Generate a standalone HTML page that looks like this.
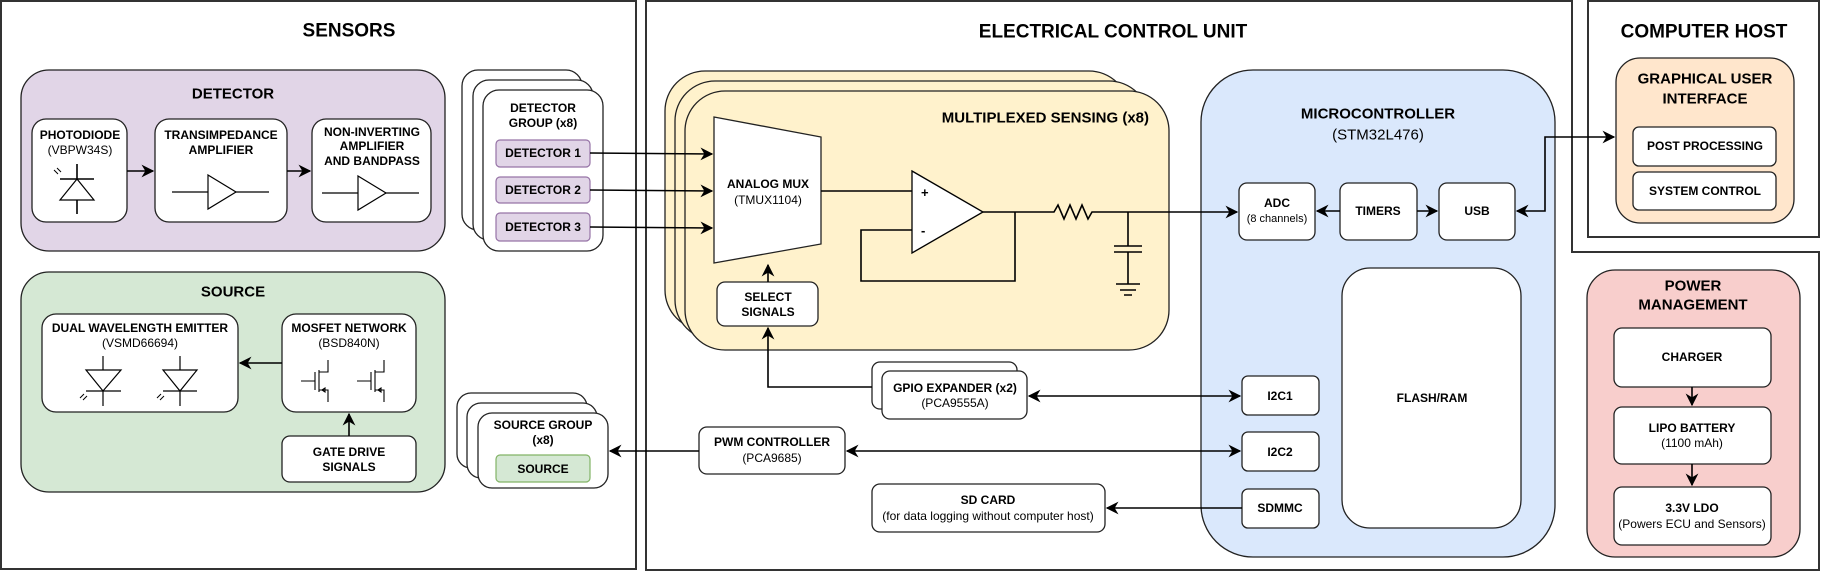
<!DOCTYPE html>
<html><head><meta charset="utf-8"><style>
html,body{margin:0;padding:0;background:#fff;}
svg{display:block;font-family:"Liberation Sans",Arial,sans-serif;}
.t{font-weight:bold;font-size:19px;text-anchor:middle;dominant-baseline:central;}
.h{font-weight:bold;font-size:15px;text-anchor:middle;dominant-baseline:central;}
.b{font-weight:bold;font-size:12px;text-anchor:middle;dominant-baseline:central;}
.n{font-size:12px;text-anchor:middle;dominant-baseline:central;}
.s{stroke:#222;stroke-width:1.3;}
.l{stroke:#000;stroke-width:1.6;fill:none;}
.w{fill:#fff;stroke:#222;stroke-width:1.3;}
</style></head><body>
<svg width="1822" height="572" viewBox="0 0 1822 572" xmlns="http://www.w3.org/2000/svg">
<defs>
<marker id="a" viewBox="0 0 10 10" refX="9" refY="5" markerWidth="8" markerHeight="8" orient="auto-start-reverse"><path d="M0,0 L10,5 L0,10 L3,5 z" fill="#000"/></marker>
</defs>
<!-- outer boxes -->
<rect x="1" y="1" width="635" height="568" fill="none" stroke="#333" stroke-width="2"/>
<path d="M646,1 H1572 V252 H1819 V570 H646 Z" fill="none" stroke="#333" stroke-width="2"/>
<rect x="1588" y="1" width="231" height="236" fill="none" stroke="#333" stroke-width="2"/>
<text class="t" x="349" y="31">SENSORS</text>
<text class="t" x="1113" y="32">ELECTRICAL CONTROL UNIT</text>
<text class="t" x="1704" y="32">COMPUTER HOST</text>

<!-- DETECTOR -->
<rect x="21" y="70" width="424" height="181" rx="28" fill="#e1d5e7" class="s"/>
<text class="h" x="233" y="94">DETECTOR</text>
<rect x="32" y="119" width="95" height="103" rx="14" class="w"/>
<text class="b" x="80" y="135">PHOTODIODE</text><text class="n" x="80" y="150">(VBPW34S)</text>
<line x1="77" y1="164" x2="77" y2="214" class="l" stroke-width="1.2"/>
<line x1="60" y1="179" x2="94" y2="179" class="l" stroke-width="1.2"/>
<path d="M77,179 L60,200 L94,200 Z" fill="#fff" stroke="#000" stroke-width="1.2"/>
<path d="M54,170 l4,4 M57,168 l4,4" stroke="#000" stroke-width="1"/>
<rect x="155" y="119" width="132" height="103" rx="14" class="w"/>
<text class="b" x="221" y="135">TRANSIMPEDANCE</text><text class="b" x="221" y="150">AMPLIFIER</text>
<line x1="172" y1="192" x2="269" y2="192" stroke="#000" stroke-width="1.2"/>
<path d="M208,175 L236,192 L208,209 Z" fill="#fff" stroke="#000" stroke-width="1.2"/>
<rect x="312" y="119" width="119" height="103" rx="14" class="w"/>
<text class="b" x="372" y="132">NON-INVERTING</text><text class="b" x="372" y="146">AMPLIFIER</text><text class="b" x="372" y="161">AND BANDPASS</text>
<line x1="322" y1="193" x2="419" y2="193" stroke="#000" stroke-width="1.2"/>
<path d="M358,176 L386,193 L358,210 Z" fill="#fff" stroke="#000" stroke-width="1.2"/>

<!-- DETECTOR GROUP -->
<rect x="462" y="70" width="120" height="160" rx="16" class="w"/>
<rect x="473" y="80" width="120" height="160" rx="16" class="w"/>
<rect x="483" y="90" width="120" height="161" rx="16" class="w"/>
<text class="b" x="543" y="108">DETECTOR</text><text class="b" x="543" y="123">GROUP (x8)</text>
<rect x="496" y="140" width="94" height="27" rx="4" fill="#e1d5e7" stroke="#9673a6" stroke-width="1.2"/>
<text class="b" x="543" y="153">DETECTOR 1</text>
<rect x="496" y="177" width="94" height="26" rx="4" fill="#e1d5e7" stroke="#9673a6" stroke-width="1.2"/>
<text class="b" x="543" y="190">DETECTOR 2</text>
<rect x="496" y="213" width="94" height="28" rx="4" fill="#e1d5e7" stroke="#9673a6" stroke-width="1.2"/>
<text class="b" x="543" y="227">DETECTOR 3</text>

<!-- SOURCE -->
<rect x="21" y="272" width="424" height="220" rx="28" fill="#d5e8d4" class="s"/>
<text class="h" x="233" y="292">SOURCE</text>
<rect x="42" y="314" width="196" height="98" rx="14" class="w"/>
<text class="b" x="140" y="328">DUAL WAVELENGTH EMITTER</text><text class="n" x="140" y="343">(VSMD66694)</text>
<g stroke="#000" stroke-width="1.2" fill="#fff">
<line x1="103" y1="356" x2="103" y2="406"/><path d="M86,370 L121,370 L103,391 Z"/><line x1="86" y1="391" x2="121" y2="391"/>
<line x1="180" y1="356" x2="180" y2="406"/><path d="M163,370 L197,370 L180,391 Z"/><line x1="163" y1="391" x2="197" y2="391"/>
</g>
<path d="M80,398 l4,-4 M83,400 l4,-4 M157,398 l4,-4 M160,400 l4,-4" stroke="#000" stroke-width="1"/>
<rect x="282" y="314" width="134" height="98" rx="14" class="w"/>
<text class="b" x="349" y="328">MOSFET NETWORK</text><text class="n" x="349" y="343">(BSD840N)</text>
<g stroke="#000" stroke-width="1.1" fill="none">
<path d="M301,381 H315 M315,372 V390 M319,370 V392 M319,372 H328 V360 M319,390 H328 V402"/>
<path d="M322,390 l3,-2 v4 z"/>
<path d="M357,381 H371 M371,372 V390 M375,370 V392 M375,372 H384 V360 M375,390 H384 V402"/>
<path d="M378,390 l3,-2 v4 z"/>
</g>
<rect x="282" y="436" width="134" height="46" rx="8" class="w"/>
<text class="b" x="349" y="452">GATE DRIVE</text><text class="b" x="349" y="467">SIGNALS</text>

<!-- SOURCE GROUP -->
<rect x="457" y="393" width="130" height="75" rx="14" class="w"/>
<rect x="467" y="403" width="130" height="75" rx="14" class="w"/>
<rect x="478" y="413" width="130" height="75" rx="14" class="w"/>
<text class="b" x="543" y="425">SOURCE GROUP</text><text class="b" x="543" y="440">(x8)</text>
<rect x="496" y="455" width="94" height="27" rx="4" fill="#d5e8d4" stroke="#82b366" stroke-width="1.2"/>
<text class="b" x="543" y="469">SOURCE</text>

<!-- MULTIPLEXED SENSING -->
<rect x="665" y="71" width="464" height="259" rx="40" fill="#fff2cc" class="s"/>
<rect x="675" y="81" width="474" height="259" rx="40" fill="#fff2cc" class="s"/>
<rect x="685" y="91" width="484" height="259" rx="40" fill="#fff2cc" class="s"/>
<text class="h" x="1149" y="118" style="text-anchor:end">MULTIPLEXED SENSING (x8)</text>
<path d="M714,117 L821,137 L821,244 L714,263 Z" class="w"/>
<text class="b" x="768" y="184">ANALOG MUX</text><text class="n" x="768" y="200">(TMUX1104)</text>
<path d="M912,171 L983,212 L912,253 Z" fill="#fff" stroke="#000" stroke-width="1.3"/>
<text x="921" y="197" font-size="13" font-weight="bold">+</text>
<text x="921" y="235" font-size="13" font-weight="bold">-</text>
<rect x="717" y="282" width="101" height="44" rx="8" class="w"/>
<text class="b" x="768" y="297">SELECT</text><text class="b" x="768" y="312">SIGNALS</text>

<!-- GPIO / PWM / SD -->
<rect x="872" y="362" width="145" height="47" rx="8" class="w"/>
<rect x="882" y="371" width="145" height="48" rx="8" class="w"/>
<text class="b" x="955" y="388">GPIO EXPANDER (x2)</text><text class="n" x="955" y="403">(PCA9555A)</text>
<rect x="699" y="427" width="146" height="47" rx="8" class="w"/>
<text class="b" x="772" y="442">PWM CONTROLLER</text><text class="n" x="772" y="458">(PCA9685)</text>
<rect x="872" y="484" width="233" height="48" rx="8" class="w"/>
<text class="b" x="988" y="500">SD CARD</text><text class="n" x="988" y="516">(for data logging without computer host)</text>

<!-- MICROCONTROLLER -->
<rect x="1201" y="70" width="354" height="487" rx="52" fill="#dae8fc" class="s"/>
<text class="h" x="1378" y="114">MICROCONTROLLER</text>
<text class="n" x="1378" y="135" style="font-size:15px">(STM32L476)</text>
<rect x="1239" y="183" width="76" height="57" rx="8" class="w"/>
<text class="b" x="1277" y="203">ADC</text><text class="n" x="1277" y="219" style="font-size:11px">(8 channels)</text>
<rect x="1340" y="183" width="77" height="57" rx="8" class="w"/>
<text class="b" x="1378" y="211">TIMERS</text>
<rect x="1439" y="183" width="76" height="57" rx="8" class="w"/>
<text class="b" x="1477" y="211">USB</text>
<rect x="1342" y="268" width="179" height="260" rx="28" class="w"/>
<text class="b" x="1432" y="398">FLASH/RAM</text>
<rect x="1242" y="376" width="77" height="39" rx="6" class="w"/>
<text class="b" x="1280" y="396">I2C1</text>
<rect x="1242" y="432" width="77" height="39" rx="6" class="w"/>
<text class="b" x="1280" y="452">I2C2</text>
<rect x="1242" y="489" width="77" height="39" rx="6" class="w"/>
<text class="b" x="1280" y="508">SDMMC</text>

<!-- GUI -->
<rect x="1616" y="58" width="178" height="165" rx="24" fill="#ffe6cc" class="s"/>
<text class="h" x="1705" y="79">GRAPHICAL USER</text><text class="h" x="1705" y="99">INTERFACE</text>
<rect x="1633" y="127" width="143" height="39" rx="6" class="w"/>
<text class="b" x="1705" y="146">POST PROCESSING</text>
<rect x="1633" y="172" width="143" height="38" rx="6" class="w"/>
<text class="b" x="1705" y="191">SYSTEM CONTROL</text>

<!-- POWER -->
<rect x="1587" y="270" width="213" height="287" rx="28" fill="#f8cecc" class="s"/>
<text class="h" x="1693" y="286">POWER</text><text class="h" x="1693" y="305">MANAGEMENT</text>
<rect x="1614" y="328" width="157" height="59" rx="8" class="w"/>
<text class="b" x="1692" y="357">CHARGER</text>
<rect x="1614" y="407" width="157" height="57" rx="8" class="w"/>
<text class="b" x="1692" y="428">LIPO BATTERY</text><text class="n" x="1692" y="443">(1100 mAh)</text>
<rect x="1614" y="487" width="157" height="58" rx="8" class="w"/>
<text class="b" x="1692" y="508">3.3V LDO</text><text class="n" x="1692" y="524">(Powers ECU and Sensors)</text>

<!-- CONNECTORS (on top) -->
<line x1="127" y1="171" x2="153" y2="171" class="l" marker-end="url(#a)"/>
<line x1="287" y1="171" x2="310" y2="171" class="l" marker-end="url(#a)"/>
<line x1="282" y1="363" x2="240" y2="363" class="l" marker-end="url(#a)"/>
<line x1="349" y1="436" x2="349" y2="414" class="l" marker-end="url(#a)"/>
<line x1="590" y1="153" x2="712" y2="154" class="l" marker-end="url(#a)"/>
<line x1="590" y1="190" x2="712" y2="191" class="l" marker-end="url(#a)"/>
<line x1="590" y1="227" x2="712" y2="228" class="l" marker-end="url(#a)"/>
<line x1="821" y1="191" x2="912" y2="191" class="l"/>
<path d="M912,230 H861 V281 H1015 V212" class="l"/>
<path d="M983,212 H1054 L1058,205 L1064,219 L1070,205 L1076,219 L1082,205 L1088,219 L1092,212 H1237" class="l" stroke-width="1.4" marker-end="url(#a)"/>
<path d="M1128,212 V246 M1114,246 H1142 M1114,252 H1142 M1128,252 V284 M1116,284 H1140 M1120,290 H1136 M1124,295 H1132" class="l" stroke-width="1.4"/>
<line x1="768" y1="282" x2="768" y2="265" class="l" marker-end="url(#a)"/>
<path d="M872,387 H768 V328" class="l" marker-end="url(#a)"/>
<line x1="1029" y1="396" x2="1240" y2="396" class="l" marker-start="url(#a)" marker-end="url(#a)"/>
<line x1="847" y1="451" x2="1240" y2="451" class="l" marker-start="url(#a)" marker-end="url(#a)"/>
<line x1="699" y1="451" x2="610" y2="451" class="l" marker-end="url(#a)"/>
<line x1="1242" y1="508" x2="1107" y2="508" class="l" marker-end="url(#a)"/>
<line x1="1340" y1="211" x2="1317" y2="211" class="l" marker-end="url(#a)"/>
<line x1="1417" y1="211" x2="1437" y2="211" class="l" marker-end="url(#a)"/>
<path d="M1517,211 H1545 V137 H1614" class="l" marker-start="url(#a)" marker-end="url(#a)"/>
<line x1="1692" y1="387" x2="1692" y2="405" class="l" marker-end="url(#a)"/>
<line x1="1692" y1="464" x2="1692" y2="485" class="l" marker-end="url(#a)"/>
</svg>
</body></html>
